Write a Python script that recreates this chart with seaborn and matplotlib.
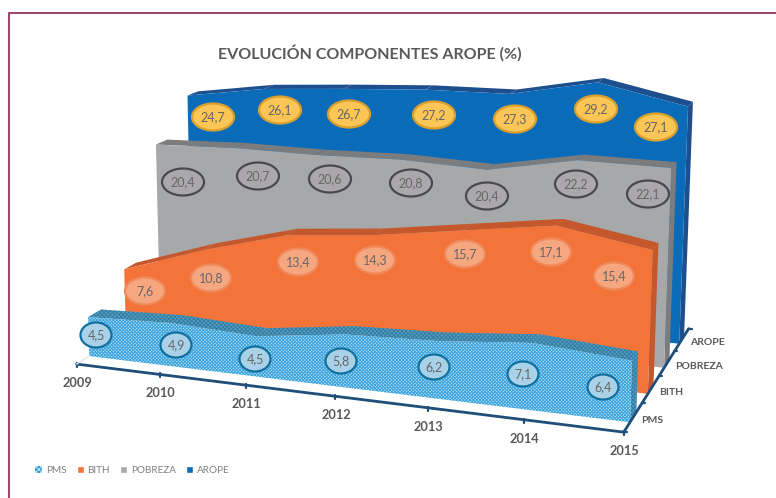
import numpy as np
import seaborn as sns
import matplotlib.pyplot as plt
from matplotlib.patches import Ellipse, Patch, Polygon

# Datos
years = [2009, 2010, 2011, 2012, 2013, 2014, 2015]
series = ['PMS', 'BITH', 'POBREZA', 'AROPE']
pms = [4.5, 4.9, 4.5, 5.8, 6.2, 7.1, 6.4]
bith = [7.6, 10.8, 13.4, 14.3, 15.7, 17.1, 15.4]
pobreza = [20.4, 20.7, 20.6, 20.8, 20.4, 22.2, 22.1]
arope = [24.7, 26.1, 26.7, 27.2, 27.3, 29.2, 27.1]
values = [pms, bith, pobreza, arope]

# Colores: frente, techo/lateral
front = ['#b4e1f6', '#f37338', '#a6a8a9', '#0a6cb9']
shade = ['#5d9cbc', '#c4582c', '#7b7c7e', '#1d4f8f']
ring = ['#12709f', '#ef8a5c', '#4a4a4c', '#d9a02e']
fill = ['#a9d2e8', '#f6a77f', '#aaa8ab', '#fbc655']

# Posicion de las etiquetas en pixeles de la imagen
label_x = [[96, 176, 255, 341, 434, 523, 603],
           [145, 211, 298, 375, 465, 551, 614],
           [183, 258, 330, 411, 487, 576, 648],
           [213, 280, 349, 434, 515, 596, 656]]
label_y = [[335, 345, 359, 361, 367, 374, 387],
           [291, 278, 262, 260, 254, 252, 276],
           [182, 176, 179, 183, 196, 184, 194],
           [117, 110, 114, 115, 119, 109, 127]]
label_size = [(31, 25), (40, 27), (42, 27), (42, 27)]

# Camara: (anio, fondo, valor) -> pixel, puntos de ajuste medidos en la imagen
calib = [(0, 0, 0, 77, 363), (1, 0, 0, 160, 375), (2, 0, 0, 247, 386),
         (3, 0, 0, 335, 397), (4, 0, 0, 428, 408), (5, 0, 0, 523, 421),
         (6, 0, 0, 624, 432), (6, 4, 0, 688, 329), (6, 1, 0, 643, 403),
         (6, 2, 0, 659, 376), (6, 3, 0, 676, 352),
         (0, .33, 0, 88, 356), (0, .33, 4.5, 88, 317), (0, 1.33, 7.6, 125, 268),
         (0, 2.33, 20.4, 156, 145), (0, 3.33, 24.7, 187, 96),
         (6, .33, 0, 630, 422), (6, .33, 6.4, 630, 360),
         (6, 1.33, 0, 648, 393), (6, 1.33, 15.4, 653, 250),
         (6, 2.33, 0, 663, 368), (6, 2.33, 22.1, 672, 167),
         (6, 3.33, 0, 679, 343), (6, 3.33, 27.1, 688, 107)]
rows, rhs = [], []
for a, b, c, u, v in calib:
    rows.append([a, b, c, 1, 0, 0, 0, 0, -u * a, -u * b, -u * c])
    rows.append([0, 0, 0, 0, a, b, c, 1, -v * a, -v * b, -v * c])
    rhs += [u, v]
cam = np.linalg.lstsq(np.array(rows, float), np.array(rhs, float), rcond=None)[0]
cam = np.append(cam, 1).reshape(3, 4)


def project(i, d, v):
    i, d, v = np.broadcast_arrays(np.atleast_1d(i), d, v)
    p = cam @ np.vstack([i, d, v, np.ones(i.shape)])
    return p[0] / p[2], p[1] / p[2]


def face(ax, i, d, v, **kw):
    x, y = project(i, d, v)
    ax.add_patch(Polygon(np.column_stack([x, y]), closed=True, **kw))


sns.set_theme(style='white')
plt.rcParams['font.family'] = ['Lato', 'DejaVu Sans']
plt.rcParams['hatch.linewidth'] = 0.7

fig = plt.figure(figsize=(7.76, 4.98), dpi=100)
ax = fig.add_axes([0, 0, 1, 1])

# Areas de atras hacia delante
idx = np.arange(len(years))
for s in [3, 2, 1, 0]:
    v = np.array(values[s])
    df, db = s + .33, s + .67
    hatch = dict(hatch='x' * 10, edgecolor='#3aa3dc', lw=0) if s == 0 else dict(lw=0)
    roof = dict(hatch='x' * 8, edgecolor='#2f7ea6', lw=0) if s == 0 else dict(lw=0)
    # techo
    for k in idx[:-1]:
        face(ax, [k, k + 1, k + 1, k], [df, df, db, db],
             [v[k], v[k + 1], v[k + 1], v[k]], facecolor=shade[s], **roof)
    # lateral
    face(ax, [6, 6, 6, 6], [df, db, db, df], [0, 0, v[-1], v[-1]], facecolor=shade[s], **roof)
    # frente
    face(ax, np.r_[idx, idx[::-1]], np.full(14, df), np.r_[v, np.zeros(7)],
         facecolor=front[s], **hatch)

# Ejes
xa, ya = project(idx, 0, 0)
sns.lineplot(x=xa, y=ya, sort=False, estimator=None, color='#1f4e79', lw=2, ax=ax)
xb, yb = project(np.full(5, 6), np.arange(5), 0)
sns.lineplot(x=xb, y=yb, sort=False, estimator=None, color='#1f4e79', lw=2, ax=ax)
for x0, y0 in zip(xa, ya):
    ax.plot([x0, x0], [y0 - 1, y0 + 3], color='#1f4e79', lw=1.6)
for x0, y0 in zip(xb, yb):
    ax.plot([x0, x0 + 3], [y0, y0], color='#1f4e79', lw=1.6)
x0, y0 = project([0, 0], [0, .33], 0)
ax.plot(x0, y0, color='#e4e4e4', lw=1)

for i, yr in enumerate(years):
    ax.text(xa[i] + 1, ya[i] + 19, str(yr), ha='center', va='center', fontsize=9.2,
            fontweight='bold', color='#595959')
for s, name in enumerate(series):
    x0, y0 = project(6, s + .5, 0)
    ax.text(x0[0] + 8, y0[0] + 3, name, ha='left', va='center', fontsize=7.5,
            fontweight='bold', color='#595959')

# Etiquetas de datos
for s in range(4):
    w, h = label_size[s]
    for i in idx:
        ax.add_patch(Ellipse((label_x[s][i], label_y[s][i]), w, h, facecolor=fill[s],
                             edgecolor=ring[s], lw=1.6))
        ax.text(label_x[s][i], label_y[s][i], f'{values[s][i]:.1f}'.replace('.', ','),
                ha='center', va='center', fontsize=9, color='#666666')

ax.text(370, 53, 'EVOLUCIÓN COMPONENTES AROPE (%)', ha='center', va='center',
        fontsize=11.5, fontweight='bold', color='#595959')

# Leyenda
handles = [Patch(facecolor=front[0], edgecolor='#2a97d4', hatch='x' * 6, lw=0, label=series[0]),
           Patch(facecolor=front[1], label=series[1]),
           Patch(facecolor=front[2], label=series[2]),
           Patch(facecolor=front[3], label=series[3])]
ax.legend(handles=handles, loc='center left', bbox_to_anchor=(35 / 776, 1 - 470 / 498),
          ncol=4, frameon=False, fontsize=7.2, handlelength=.7, handleheight=.7,
          handletextpad=.4, columnspacing=1.0, borderpad=0, borderaxespad=0,
          labelcolor='#7f7f7f')

# Marco
ax.plot([9, 9, 776], [498, 13, 13], color='#9a4a6e', lw=1.5)

ax.set_xlim(0, 776)
ax.set_ylim(498, 0)
ax.axis('off')

plt.savefig('out.png', dpi=100)
